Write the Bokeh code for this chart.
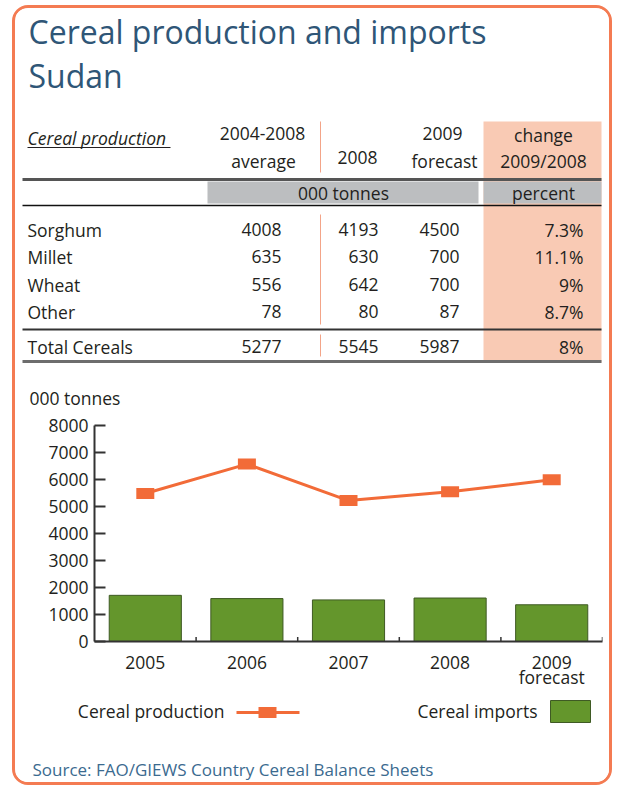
from bokeh.plotting import figure
from bokeh.models import Range1d, FactorRange, ColumnDataSource, FixedTicker
from bokeh.layouts import column
from bokeh.core.properties import value
from bokeh.embed import file_html
from bokeh.resources import INLINE

# ---------------- data ----------------
title_lines = ["Cereal production and imports", "Sudan"]
header_top = ["2004-2008", "2009", "change"]
header_bottom = ["average", "2008", "forecast", "2009/2008"]
unit_labels = ["000 tonnes", "percent"]
crops = ["Sorghum", "Millet", "Wheat", "Other"]
avg_2004_2008 = [4008, 635, 556, 78]
prod_2008 = [4193, 630, 642, 80]
forecast_2009 = [4500, 700, 700, 87]
change_pct = ["7.3%", "11.1%", "9%", "8.7%"]
total_label = "Total Cereals"
total_values = [5277, 5545, 5987]
total_change = "8%"

years = ["2005", "2006", "2007", "2008", "2009"]
year_notes = ["", "", "", "", "forecast"]
cereal_production = [5480, 6570, 5220, 5545, 5987]
cereal_imports = [1710, 1590, 1540, 1610, 1360]
y_ticks = [0, 1000, 2000, 3000, 4000, 5000, 6000, 7000, 8000]
legend_labels = ["Cereal production", "Cereal imports"]
source_text = "Source: FAO/GIEWS Country Cereal Balance Sheets"

# ---------------- style ----------------
FONT = value("Open Sans")
FS = "17.5px"
DARK = "#231f20"
BLUE = "#2f5677"
ORANGE = "#f26b38"
GREEN = "#64962c"
GREEN_EDGE = "#3f5a24"
SALMON = "#f9cab4"
GRAY = "#bcbec0"
W = 594          # inner width of the framed box
BL, BR = 79, 7   # left / right borders shared by all three panels


def blank(h, ytop, ybot):
    p = figure(width=W, height=h, x_range=Range1d(15 + BL, 609 - BR), y_range=Range1d(ybot, ytop),
               output_backend="svg", toolbar_location=None,
               x_axis_location=None, y_axis_location=None,
               min_border_left=BL, min_border_right=BR, min_border_top=0, min_border_bottom=0)
    p.outline_line_color = None
    p.grid.visible = False
    return p


def unclip(p):
    for r in p.renderers:
        r.level = "overlay"

# ---------------- title + table ----------------
t = blank(404, 8, 412)
t.text(x=[28, 28], y=[31, 75], text=title_lines, text_font=FONT, text_font_size="32px",
       text_color=BLUE, text_baseline="middle")

t.quad(left=[483], right=[601], top=[121], bottom=[362], fill_color=SALMON, line_color=None)
t.quad(left=[207, 483], right=[478, 601], top=[181, 181], bottom=[203, 203],
       fill_color=GRAY, line_color=None)
t.segment(x0=[22], y0=[179], x1=[601], y1=[179], line_color="#555555", line_width=3)
t.segment(x0=[22], y0=[205], x1=[601], y1=[205], line_color="#111111", line_width=1.5)
t.segment(x0=[22], y0=[329], x1=[601], y1=[329], line_color="#333333", line_width=2)
t.segment(x0=[22], y0=[361], x1=[601], y1=[361], line_color="#6d6d6d", line_width=3)
t.segment(x0=[320, 320, 320], y0=[121, 214, 334], x1=[320, 320, 320], y1=[172, 324, 356],
          line_color="#f3a488", line_width=1)

t.text(x=[27], y=[137], text=["Cereal production"], text_font=FONT, text_font_size=FS,
       text_font_style="italic", text_color=DARK, text_baseline="middle")
t.segment(x0=[27], y0=[147], x1=[170], y1=[147], line_color=DARK, line_width=1)
t.text(x=[262, 442, 543], y=[133, 133, 134], text=header_top, text_font=FONT,
       text_font_size=FS, text_color=DARK, text_align="center", text_baseline="middle")
t.text(x=[263, 357, 444, 543], y=[160, 157, 160, 160], text=header_bottom, text_font=FONT,
       text_font_size=FS, text_color=DARK, text_align="center", text_baseline="middle")
t.text(x=[343, 543], y=[192, 192], text=unit_labels, text_font=FONT, text_font_size=FS,
       text_color=DARK, text_align="center", text_baseline="middle")

row_y = [229, 256, 284, 311]
t.text(x=[27] * 4, y=row_y, text=crops, text_font=FONT, text_font_size=FS,
       text_color=DARK, text_baseline="middle")
for xr, vals in zip([281, 378, 459], [avg_2004_2008, prod_2008, forecast_2009]):
    t.text(x=[xr] * 4, y=row_y, text=[str(v) for v in vals], text_font=FONT,
           text_font_size=FS, text_color=DARK, text_align="right", text_baseline="middle")
t.text(x=[583] * 4, y=row_y, text=change_pct, text_font=FONT, text_font_size=FS,
       text_color=DARK, text_align="right", text_baseline="middle")
t.text(x=[27], y=[346], text=[total_label], text_font=FONT, text_font_size=FS,
       text_color=DARK, text_baseline="middle")
t.text(x=[281, 378, 459], y=[346] * 3, text=[str(v) for v in total_values], text_font=FONT,
       text_font_size=FS, text_color=DARK, text_align="right", text_baseline="middle")
t.text(x=[583], y=[346], text=[total_change], text_font=FONT, text_font_size=FS,
       text_color=DARK, text_align="right", text_baseline="middle")
t.text(x=[29], y=[397], text=["000 tonnes"], text_font=FONT, text_font_size=FS,
       text_color=DARK, text_baseline="middle")
unclip(t)

# ---------------- chart ----------------
src = ColumnDataSource(dict(year=years, prod=cereal_production, imp=cereal_imports,
                            note=year_notes))
c = figure(width=W, height=278, x_range=FactorRange(*years), y_range=Range1d(0, 8000),
           output_backend="svg", toolbar_location=None,
           min_border_left=BL, min_border_right=BR, min_border_top=13, min_border_bottom=49)
c.outline_line_color = None
c.grid.visible = False
c.vbar(x="year", top="imp", width=0.71, source=src, fill_color=GREEN,
       line_color=GREEN_EDGE, line_width=1)
c.line(x="year", y="prod", source=src, line_color=ORANGE, line_width=3)
c.rect(x="year", y="prod", width=18, height=11, width_units="screen", height_units="screen",
       source=src, fill_color=ORANGE, line_color=None)
bounds = [(y, 0.5) for y in years]
c.segment(x0=bounds, y0=[0] * len(bounds), x1=bounds, y1=[170] * len(bounds),
          line_color="#333333", line_width=1.5)
notes = c.text(x="year", y=-1330, text="note", source=src, text_font=FONT,
               text_font_size=FS, text_color=DARK, text_align="center", text_baseline="middle")
notes.level = "overlay"

c.yaxis.ticker = FixedTicker(ticks=y_ticks)
c.yaxis.minor_tick_line_color = None
c.yaxis.major_tick_in = 11
c.yaxis.major_tick_out = 0
c.yaxis.major_tick_line_width = 2
c.yaxis.major_tick_line_color = "#333333"
c.yaxis.major_label_standoff = 6
c.xaxis.major_tick_line_color = None
c.xaxis.major_label_standoff = 8
for ax in (c.xaxis, c.yaxis):
    ax.axis_line_color = "#333333"
    ax.axis_line_width = 2
    ax.major_label_text_font = "Open Sans"
    ax.major_label_text_font_size = FS
    ax.major_label_text_color = DARK

# ---------------- legend + source ----------------
b = blank(92, 690, 782)
b.text(x=[224, 537], y=[710, 710], text=legend_labels, text_font=FONT,
       text_font_size=FS, text_color=DARK, text_align="right", text_baseline="middle")
b.segment(x0=[236], y0=[712], x1=[299], y1=[712], line_color=ORANGE, line_width=3)
b.rect(x=[267], y=[712], width=18, height=11, width_units="screen", height_units="screen",
       fill_color=ORANGE, line_color=None)
b.quad(left=[550], right=[590], top=[700], bottom=[722], fill_color=GREEN, line_color=GREEN_EDGE)
b.text(x=[32], y=[769], text=[source_text], text_font=FONT, text_font_size="17px",
       text_color="#3b6a8f", text_baseline="middle")
unclip(b)

layout = column(t, c, b, spacing=0,
                styles={"border": "3px solid #f47b52", "border-radius": "16px",
                        "overflow": "hidden", "background-color": "white",
                        "margin": "5px 0 0 12px"})

open("out.html", "w").write(file_html(layout, INLINE))
